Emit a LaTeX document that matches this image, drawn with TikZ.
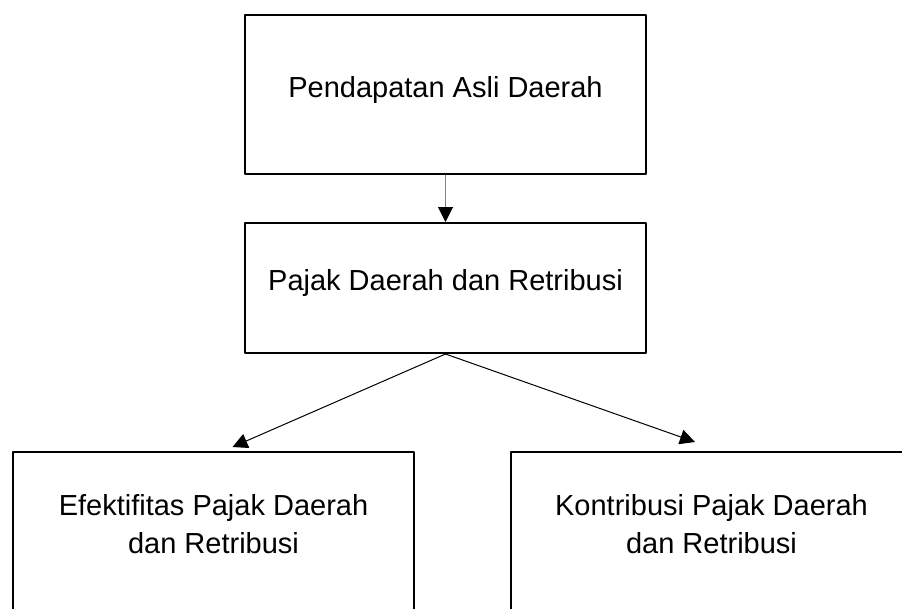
\documentclass[tikz,border=0pt]{standalone}
\usepackage{fontspec}
\setmainfont{Liberation Sans}
\usetikzlibrary{arrows.meta}

\begin{document}
\begin{tikzpicture}[x=1pt,y=-1pt,line cap=round,line join=round,
  kotak/.style={draw,line width=2pt,minimum width=401pt,align=center,
    text depth=16pt,font=\fontsize{29}{38}\selectfont},
  panah/.style={line width=1pt,-{Triangle[length=15pt,width=15pt]}}]
\useasboundingbox (0,0) rectangle (902,608);
\clip (0,0) rectangle (902,608);
\node[kotak,minimum height=159pt] (pad) at (445.5,94.5) {Pendapatan Asli Daerah};
\node[kotak,minimum height=130pt] (pajak) at (445.5,288) {Pajak Daerah dan Retribusi};
\node[kotak,minimum height=159pt] (efek) at (213.5,531.5) {Efektifitas Pajak Daerah\\dan Retribusi};
\node[kotak,minimum height=159pt] (kontr) at (711.5,531.5) {Kontribusi Pajak Daerah\\dan Retribusi};
\draw[panah,draw=gray,-{Triangle[length=15pt,width=15pt,color=black,fill=black]}] (pad.south) -- (pajak.north);
\draw[panah] (pajak.south) -- ([xshift=19pt,yshift=4pt]efek.north);
\draw[panah] (pajak.south) -- ([xshift=-16.5pt,yshift=9pt]kontr.north);
\end{tikzpicture}
\end{document}
